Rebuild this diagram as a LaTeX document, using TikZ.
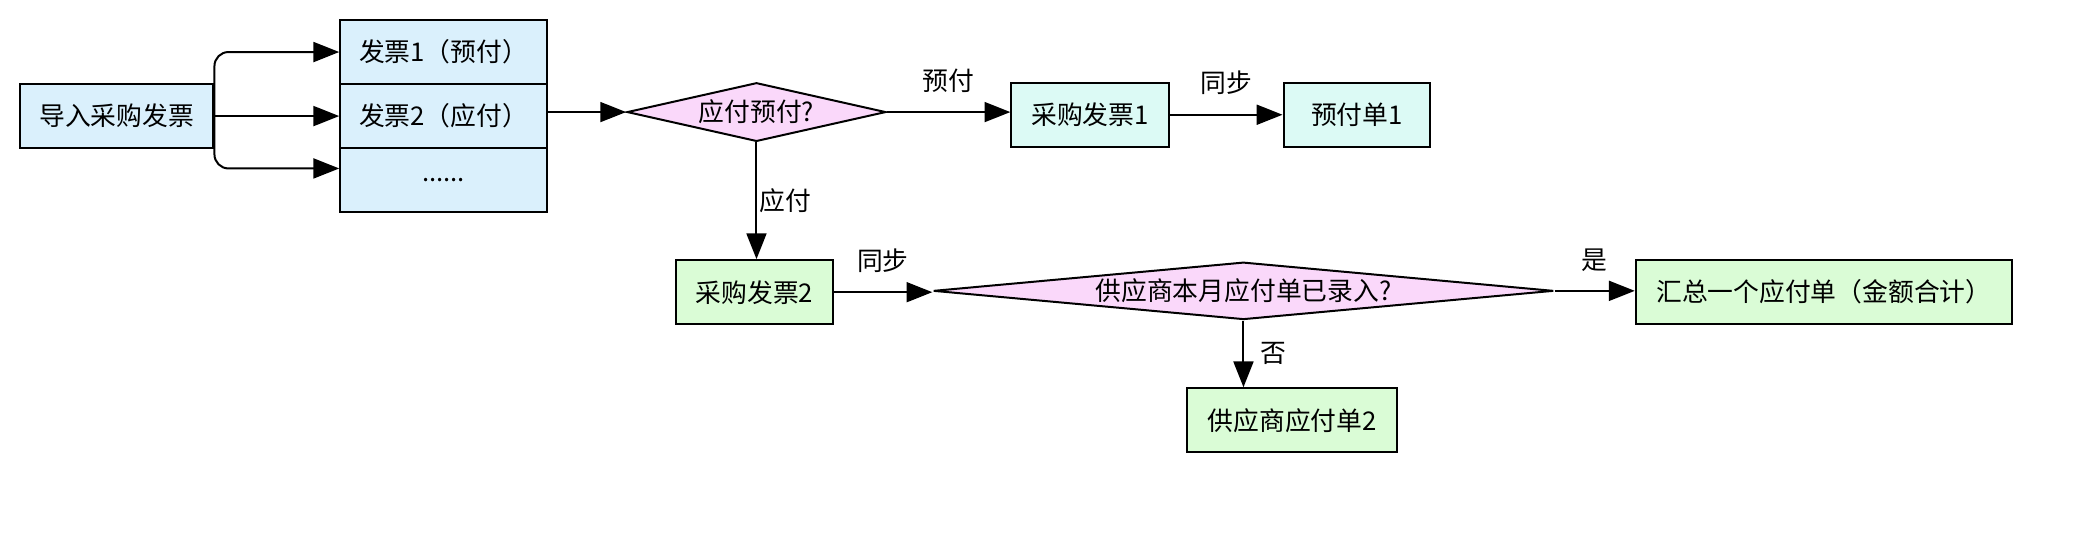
\documentclass[tikz,border=0pt]{standalone}
\usepackage{fontspec}
\setmainfont{Liberation Sans}
\newfontfamily\cjk{Noto Sans CJK SC}
\usetikzlibrary{arrows.meta,positioning,calc,shapes.geometric}
\definecolor{inBlue}{RGB}{218,240,252}
\definecolor{preCyan}{RGB}{220,250,245}
\definecolor{payGreen}{RGB}{218,252,214}
\definecolor{askPink}{RGB}{250,216,250}

\begin{document}
\begin{tikzpicture}[x=0.02cm, y=-0.02cm,
    every node/.style={font=\cjk\fontsize{11}{13}\selectfont},
    box/.style={draw, line width=0.85pt, minimum height=0.96cm, inner sep=0pt},
    ask/.style={draw, diamond, fill=askPink, line width=0.85pt, inner sep=0pt},
    arr/.style={-{Triangle[length=11pt,width=8.5pt]}, line width=0.85pt},
    lbl/.style={inner sep=0pt}]
  \useasboundingbox (0,0) rectangle (1568,399);
  % imported invoices
  \node[box, fill=inBlue, minimum width=2.9cm] (src) at (87.5,87) {导入采购发票};
  \node[box, fill=inBlue, minimum width=3.1cm] (inv1) at (332.5,39) {发票1（预付）};
  \node[box, fill=inBlue, minimum width=3.1cm] (inv2) at (332.5,87) {发票2（应付）};
  \node[box, fill=inBlue, minimum width=3.1cm] (inv3) at (332.5,135) {......};
  \coordinate (in3) at ($(inv3.north west)+(0,16)$);
  \draw[arr, rounded corners=6pt] (src.east) |- (inv1.west);
  \draw[arr] (src.east) -- (src.east -| inv2.west);
  \draw[arr, rounded corners=6pt] (src.east) |- (in3);
  % first decision
  \node[ask, aspect=4.4, minimum width=3.88cm, minimum height=0.88cm] (d1) at (567,84) {应付预付?};
  \draw[arr] (inv2.east |- d1.west) -- (d1.west);
  \node[box, fill=preCyan, minimum width=2.36cm] (b1) at (817,86) {采购发票1};
  \node[box, fill=preCyan, minimum width=2.2cm] (p1) at (1017,86) {预付单1};
  \draw[arr] (d1.east) -- node[lbl, above=8pt] (tPre) {预付} (d1.east -| b1.west);
  \draw[arr] (b1.east) -- node[lbl, above=8pt] (tSync1) {同步} (p1.west);
  \node[box, fill=payGreen, minimum width=2.34cm] (b2) at (565.5,219) {采购发票2};
  \draw[arr] (d1.south) -- node[lbl, right=1pt] (tPay) {应付} (d1.south |- b2.north);
  % second decision
  \node[ask, aspect=10.8, minimum width=9.3cm, minimum height=0.86cm] (d2) at (932,218) {供应商本月应付单已录入?};
  \draw[arr] (b2.east) -- node[lbl, above=8pt] (tSync2) {同步} (b2.east -| d2.west);
  \node[box, fill=payGreen, minimum width=5.64cm] (sum) at (1367,219) {汇总一个应付单（金额合计）};
  \draw[arr] (d2.east) -- node[lbl, above=8pt] (tYes) {是} (d2.east -| sum.west);
  \node[box, fill=payGreen, minimum width=3.14cm] (n2) at (968.5,315) {供应商应付单2};
  \draw[arr] (d2.south) -- node[lbl, right=7pt] (tNo) {否} (d2.south |- n2.north);
\end{tikzpicture}
\end{document}
